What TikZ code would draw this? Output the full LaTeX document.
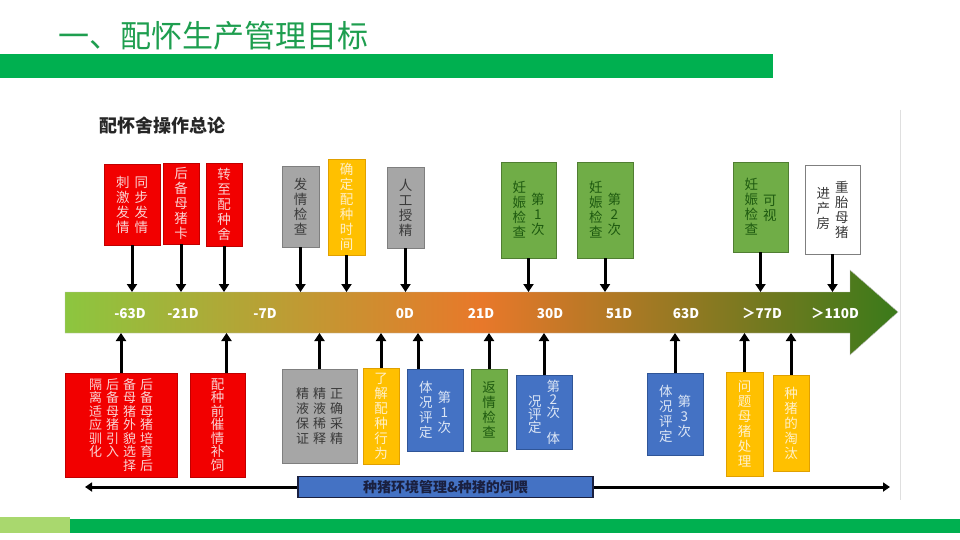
\documentclass[tikz,border=0pt]{standalone}
\usepackage{fontspec}
\setmainfont{Noto Sans CJK SC}
\usepackage{xcolor}
\usetikzlibrary{arrows.meta}
\definecolor{barGreen}{HTML}{00B050}
\definecolor{barLime}{HTML}{A9D86E}
\definecolor{titleGreen}{HTML}{1E9E4F}
\definecolor{redFill}{HTML}{F20000}
\definecolor{redEdge}{HTML}{C00000}
\definecolor{redText}{HTML}{FAD2D2}
\definecolor{grayFill}{HTML}{A6A6A6}
\definecolor{grayEdge}{HTML}{7F7F7F}
\definecolor{grayText}{HTML}{3A3A3A}
\definecolor{yelFill}{HTML}{FFC000}
\definecolor{yelEdge}{HTML}{E0A000}
\definecolor{yelText}{HTML}{FFF0C8}
\definecolor{grnFill}{HTML}{70AD47}
\definecolor{grnEdge}{HTML}{507E32}
\definecolor{grnText}{HTML}{1E5A10}
\definecolor{bluFill}{HTML}{4472C4}
\definecolor{bluEdge}{HTML}{2F5597}
\definecolor{bluText}{HTML}{DCE6F5}
\definecolor{navyEdge}{HTML}{1A2040}
\definecolor{arrLeft}{HTML}{8CC63F}
\definecolor{arrMid}{HTML}{E8782A}
\definecolor{arrRight}{HTML}{3A7A1A}

% one vertical column of characters
\newdimen\vskipcol \vskipcol=15pt
\makeatletter
\newcommand\vcol[1]{\vtop{\baselineskip=\vskipcol\@tfor\vc@ch:=#1\do{\hbox to 1em{\hss\vc@ch\hss}}}}
\makeatother

\begin{document}
\begin{tikzpicture}[x=1pt, y=-1pt,
  every node/.style={inner sep=0pt},
  tbox/.style={draw, line width=0.7pt, font=\fontsize{13.5}{15}\selectfont},
  redB/.style={tbox, draw=redEdge, fill=redFill, text=redText},
  grayB/.style={tbox, draw=grayEdge, fill=grayFill, text=grayText},
  yelB/.style={tbox, draw=yelEdge, fill=yelFill, text=yelText},
  grnB/.style={tbox, draw=grnEdge, fill=grnFill, text=grnText},
  bluB/.style={tbox, draw=bluEdge, fill=bluFill, text=bluText},
  whiteB/.style={tbox, draw=grayEdge, fill=white, text=grayText},
  daylab/.style={font=\fontsize{13.5}{14}\selectfont\bfseries, text=white, anchor=base},
  down/.style={line width=3pt, -{Triangle[width=10pt,length=8pt]}},
  up/.style={line width=3pt, -{Triangle[width=10pt,length=8pt]}},
  both/.style={line width=3pt, {Triangle[width=9pt,length=7pt]}-{Triangle[width=9pt,length=7pt]}},
]
\useasboundingbox (0,0) rectangle (960,540);

% header and footer bars
\node[anchor=west, font=\fontsize{31}{31}\selectfont, text=titleGreen] (title) at (58,36) {一、配怀生产管理目标};
\fill[barGreen] (0,54) rectangle (773,78);
\fill[barLime] (0,517) rectangle (70,533);
\fill[barGreen] (70,519) rectangle (960,533);
\draw[gray!25, line width=1pt] (900,110) -- (900,500);

\node[anchor=west, font=\fontsize{18}{18}\selectfont\bfseries, text=black!85] (sub) at (99,126) {配怀舍操作总论};

% timeline arrow
\shade[left color=arrLeft, right color=arrRight, middle color=arrMid, draw=gray!50, line width=0.4pt]
  (65,292) -- (850,292) -- (850,270) -- (898,312) -- (850,355) -- (850,333) -- (65,333) -- cycle;
\coordinate (bodyT) at (0,292);
\coordinate (bodyB) at (0,333);
\foreach \x/\t [count=\i] in {130/-63D, 183/-21D, 265/-7D, 405/0D, 481/21D,
    550/30D, 619/51D, 686/63D, 762/＞77D, 835/＞110D}
  \node[daylab] (d\i) at (\x,318) {\t};

% boxes above the timeline
\node[redB, minimum width=56pt, minimum height=81pt] (tSync) at (132,204.5)
  {\vcol{刺激发情}\hspace{5pt}\vcol{同步发情}};
\node[redB, minimum width=36pt, minimum height=81pt] (tCard) at (181,203.5) {\vcol{后备母猪卡}};
\node[redB, minimum width=36pt, minimum height=83pt] (tMove) at (224,204.5) {\vcol{转至配种舍}};
\node[grayB, minimum width=37pt, minimum height=81pt] (tHeat) at (300.5,206.5) {\vcol{发情检查}};
\node[yelB, minimum width=37pt, minimum height=96pt] (tTime) at (346.5,207) {\vcol{确定配种时间}};
\node[grayB, minimum width=37pt, minimum height=81pt] (tAI) at (405.5,207.5) {\vcol{人工授精}};
\node[grnB, minimum width=55pt, minimum height=96pt] (tPregA) at (528.5,210)
  {\vcol{妊娠检查}\hspace{5pt}\raisebox{-12pt}{\vcol{第1次}}};
\node[grnB, minimum width=56pt, minimum height=96pt] (tPregB) at (605,210)
  {\vcol{妊娠检查}\hspace{5pt}\raisebox{-12pt}{\vcol{第2次}}};
\node[grnB, minimum width=55pt, minimum height=90pt] (tPregC) at (760.5,207)
  {\vcol{妊娠检查}\hspace{5pt}\raisebox{-16pt}{\vcol{可视}}};
\node[whiteB, minimum width=55pt, minimum height=89pt] (tFarrow) at (832.5,209.5)
  {\raisebox{-6pt}{\vcol{进产房}}\hspace{5pt}\vcol{重胎母猪}};

\foreach \n in {tSync, tCard, tMove, tHeat, tTime, tAI, tPregA, tPregB, tPregC, tFarrow}
  \draw[down] (\n.south) -- (\n.south |- bodyT);

% boxes below the timeline
\vskipcol=13.5pt
\node[redB, font=\fontsize{13}{14}\selectfont, minimum width=112pt, minimum height=104pt] (bGilt) at (121,425)
  {\vcol{隔离适应驯化}\hspace{4pt}\vcol{后备母猪引入}\hspace{4pt}\vcol{备母猪外貌选择}\hspace{4pt}\vcol{后备母猪培育后}};
\node[redB, minimum width=55pt, minimum height=104pt] (bFlush) at (217.5,425) {\vcol{配种前催情补饲}};
\vskipcol=15pt
\node[grayB, font=\fontsize{13}{14}\selectfont, minimum width=75pt, minimum height=94pt] (bSemen) at (319.5,416)
  {\vcol{精液保证}\hspace{4pt}\vcol{精液稀释}\hspace{4pt}\vcol{正确采精}};
\node[yelB, minimum width=36pt, minimum height=96pt] (bBehav) at (381,416) {\vcol{了解配种行为}};
\node[bluB, minimum width=56pt, minimum height=82pt] (bBodyA) at (435,410)
  {\vcol{体况评定}\hspace{5pt}\raisebox{-10pt}{\vcol{第1次}}};
\node[grnB, minimum width=36pt, minimum height=82pt] (bReturn) at (489,410) {\vcol{返情检查}};
\vskipcol=13pt
\node[bluB, minimum width=56pt, minimum height=74pt] (bBodyB) at (544,412)
  {\raisebox{-2pt}{\vcol{~况评定}}\hspace{5pt}\vcol{第2次~体}};
\vskipcol=15pt
\node[bluB, minimum width=56pt, minimum height=82pt] (bBodyC) at (675,414)
  {\vcol{体况评定}\hspace{5pt}\raisebox{-10pt}{\vcol{第3次}}};
\node[yelB, minimum width=37pt, minimum height=104pt] (bProblem) at (744.5,424) {\vcol{问题母猪处理}};
\node[yelB, minimum width=36pt, minimum height=96pt] (bCull) at (791,423) {\vcol{种猪的淘汰}};

\foreach \n in {bGilt, bSemen, bBehav, bReturn, bBodyB, bBodyC, bProblem, bCull}
  \draw[up] (\n.north) -- (\n.north |- bodyB);
\draw[up] ([xshift=9pt]bFlush.north) -- ([xshift=9pt]bFlush.north |- bodyB);
\draw[up] ([xshift=-17pt]bBodyA.north) -- ([xshift=-17pt]bBodyA.north |- bodyB);

% management band
\coordinate (mgL) at (85,487);
\coordinate (mgR) at (890,487);
\draw[both] (mgL) -- (mgR);
\node[draw=navyEdge, line width=1.6pt, fill=bluFill, minimum width=295pt, minimum height=21pt,
      font=\fontsize{14}{14}\selectfont\bfseries, text=navyEdge] (mgmt) at (445.5,487)
  {种猪环境管理\&种猪的饲喂};
\end{tikzpicture}
\end{document}
